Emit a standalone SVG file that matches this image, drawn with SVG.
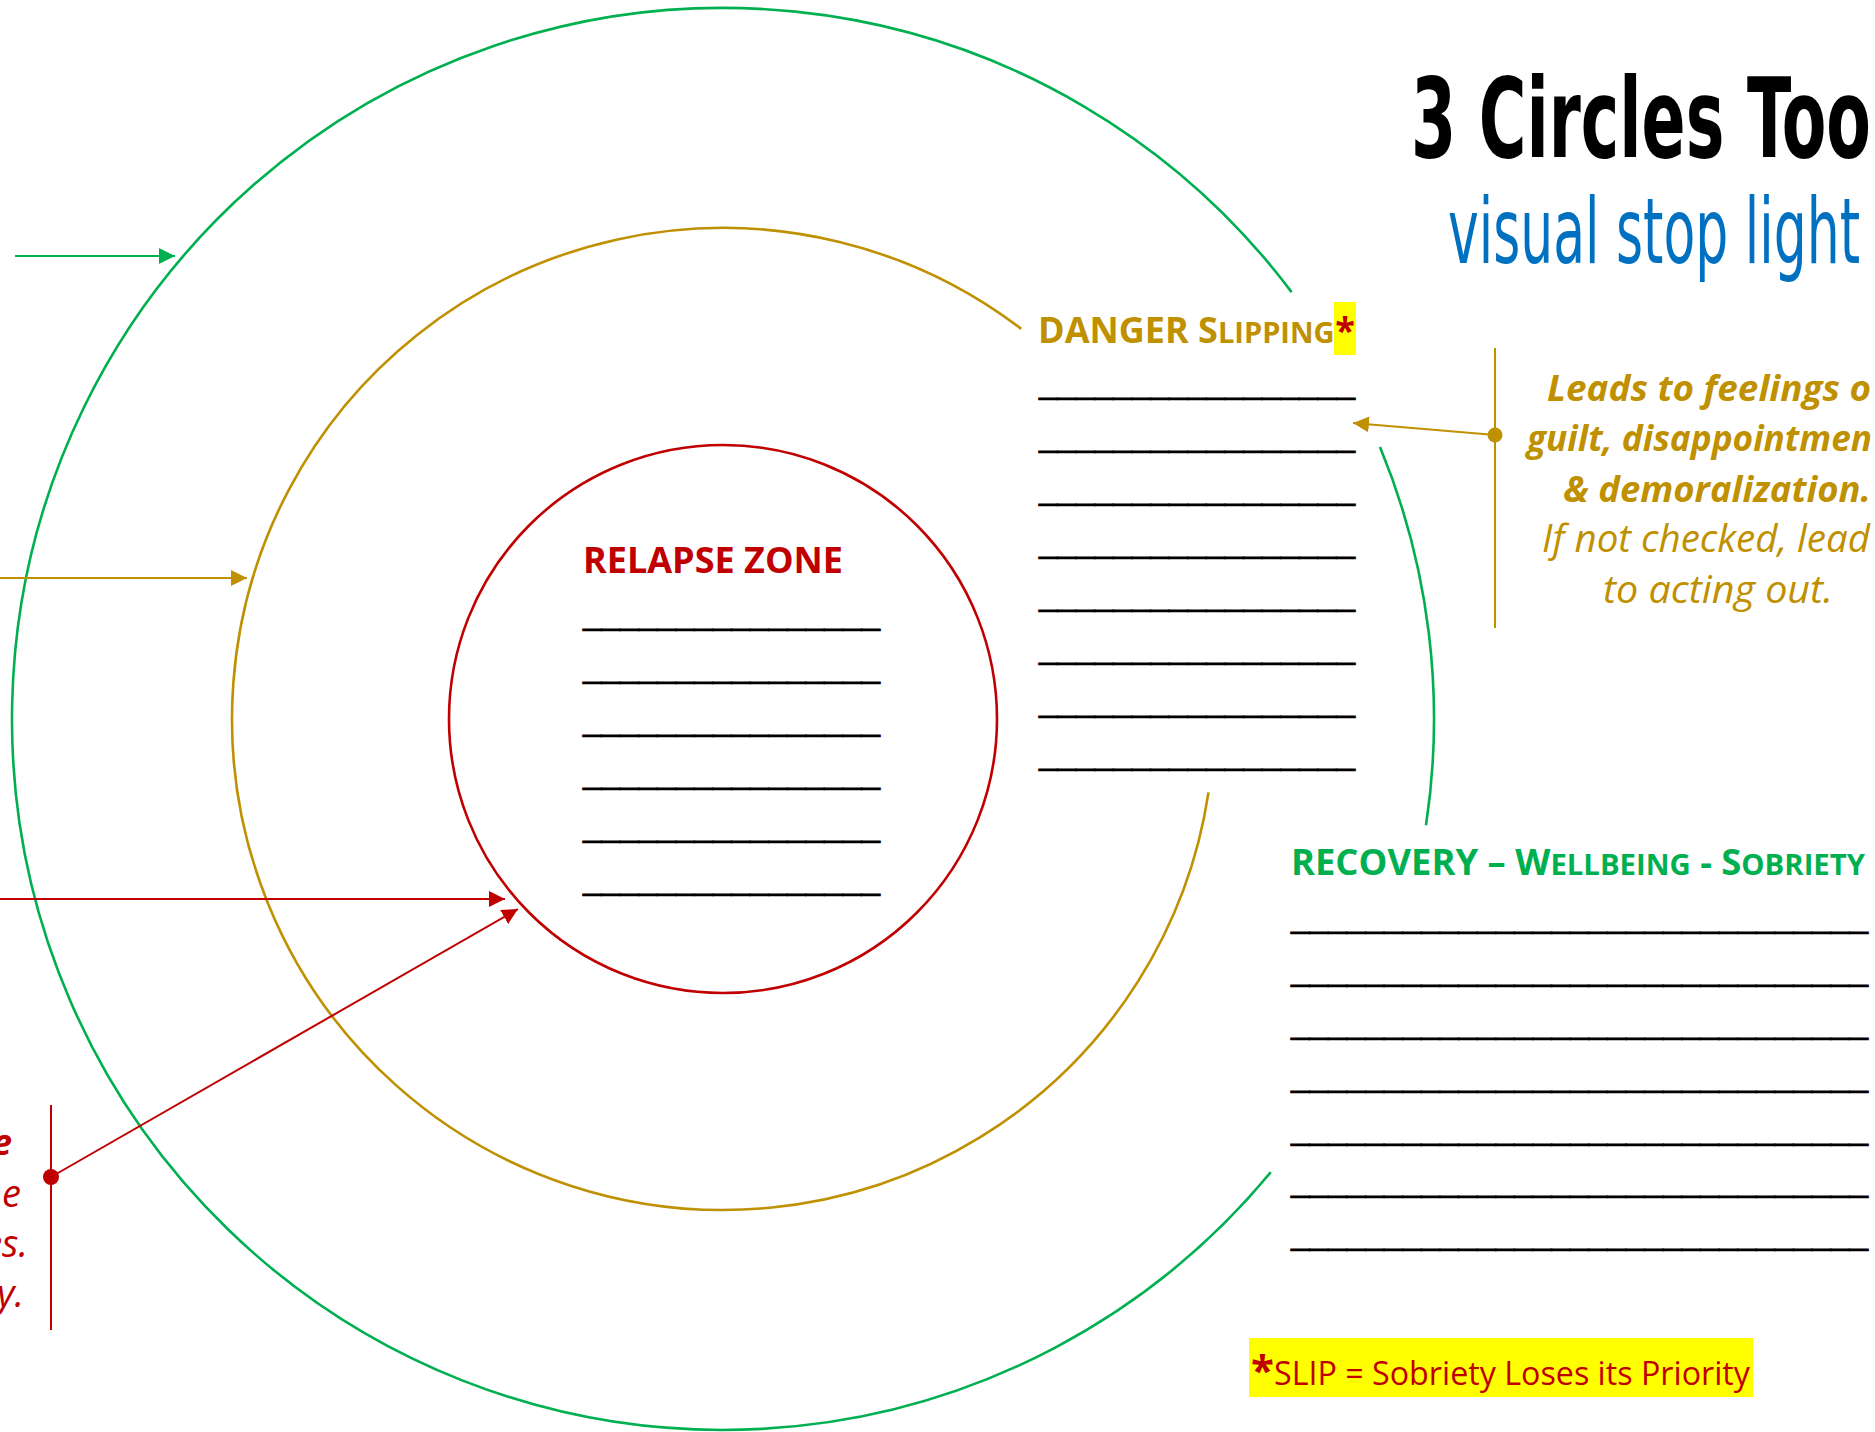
<svg xmlns="http://www.w3.org/2000/svg" width="1875" height="1432" viewBox="0 0 1875 1432">
  <style>
    .ring { fill: none; stroke-width: 2.6; }
    .g { stroke: #00B050; }
    .y { stroke: #BF9000; }
    .r { stroke: #C00000; }
    .conn { fill: none; stroke-width: 2; }
    .head { font-family: "Open Sans", "Liberation Sans", sans-serif; font-weight: bold; font-size: 36px; }
    .sc { font-size: 29px; }
    .blank { font-family: "Liberation Sans", Arial, sans-serif; font-size: 34px; fill: #000000; stroke: #000000; stroke-width: 0.7; }
    .note { font-family: "Open Sans", "Liberation Sans", sans-serif; font-style: italic; font-size: 38px; }
    .nb { font-weight: bold; font-size: 36px; }
    .title { font-family: "DejaVu Sans Condensed", "DejaVu Sans", sans-serif; }
  </style>
  <defs>
    <marker id="ahG" viewBox="0 0 16 16" refX="16" refY="8" markerWidth="16" markerHeight="16" markerUnits="userSpaceOnUse" orient="auto">
      <path d="M0,0 L16,8 L0,16 z" fill="#00B050"/>
    </marker>
    <marker id="ahY" viewBox="0 0 16 16" refX="16" refY="8" markerWidth="16" markerHeight="16" markerUnits="userSpaceOnUse" orient="auto">
      <path d="M0,0 L16,8 L0,16 z" fill="#BF9000"/>
    </marker>
    <marker id="ahR" viewBox="0 0 16 16" refX="16" refY="8" markerWidth="16" markerHeight="16" markerUnits="userSpaceOnUse" orient="auto">
      <path d="M0,0 L16,8 L0,16 z" fill="#C00000"/>
    </marker>
  </defs>
  <rect width="1875" height="1432" fill="#FFFFFF"/>

  <g id="circles">
    <path id="recovery-ring-main" class="ring g" d="M1291.6,292.1 A711,711 0 1 0 1270.8,1172.2"/>
    <path id="recovery-ring-side" class="ring g" d="M1380,447 A711,711 0 0 1 1426,825.3"/>
    <path id="danger-ring" class="ring y" d="M1021.2,328.9 A491,491 0 1 0 1208.5,792.4"/>
    <circle id="relapse-ring" class="ring r" cx="723" cy="719" r="274"/>
  </g>

  <g id="title">
    <text class="title" x="1411" y="157" font-size="111" font-weight="bold" fill="#000000" textLength="460" lengthAdjust="spacingAndGlyphs">3 Circles Too</text>
    <text class="title" x="1448" y="263" font-size="90" fill="#0070C0" textLength="412" lengthAdjust="spacingAndGlyphs">visual stop light</text>
  </g>

  <g id="relapse-zone">
    <text class="head" x="583" y="573" fill="#C00000">RELAPSE ZONE</text>
    <text class="blank" x="583" y="624" textLength="297" lengthAdjust="spacingAndGlyphs">________________</text>
    <text class="blank" x="583" y="677" textLength="297" lengthAdjust="spacingAndGlyphs">________________</text>
    <text class="blank" x="583" y="730" textLength="297" lengthAdjust="spacingAndGlyphs">________________</text>
    <text class="blank" x="583" y="783" textLength="297" lengthAdjust="spacingAndGlyphs">________________</text>
    <text class="blank" x="583" y="836" textLength="297" lengthAdjust="spacingAndGlyphs">________________</text>
    <text class="blank" x="583" y="889" textLength="297" lengthAdjust="spacingAndGlyphs">________________</text>
  </g>

  <g id="danger-zone">
    <text class="head" x="1038" y="343" fill="#BF9000">DANGER S<tspan class="sc">LIPPING</tspan></text>
    <rect x="1334" y="302" width="22" height="53" fill="#FFFF00"/>
    <text class="head" x="1345" y="343" fill="#C00000" text-anchor="middle">*</text>
    <text class="blank" x="1039" y="393" textLength="316" lengthAdjust="spacingAndGlyphs">_________________</text>
    <text class="blank" x="1039" y="446" textLength="316" lengthAdjust="spacingAndGlyphs">_________________</text>
    <text class="blank" x="1039" y="499" textLength="316" lengthAdjust="spacingAndGlyphs">_________________</text>
    <text class="blank" x="1039" y="552" textLength="316" lengthAdjust="spacingAndGlyphs">_________________</text>
    <text class="blank" x="1039" y="605" textLength="316" lengthAdjust="spacingAndGlyphs">_________________</text>
    <text class="blank" x="1039" y="658" textLength="316" lengthAdjust="spacingAndGlyphs">_________________</text>
    <text class="blank" x="1039" y="711" textLength="316" lengthAdjust="spacingAndGlyphs">_________________</text>
    <text class="blank" x="1039" y="764" textLength="316" lengthAdjust="spacingAndGlyphs">_________________</text>
  </g>

  <g id="recovery-zone">
    <text class="head" x="1291" y="875" fill="#00B050" textLength="574" lengthAdjust="spacingAndGlyphs">RECOVERY – W<tspan class="sc">ELLBEING</tspan> - S<tspan class="sc">OBRIETY</tspan></text>
    <text class="blank" x="1291" y="927" textLength="577" lengthAdjust="spacingAndGlyphs">_______________________________</text>
    <text class="blank" x="1291" y="980" textLength="577" lengthAdjust="spacingAndGlyphs">_______________________________</text>
    <text class="blank" x="1291" y="1033" textLength="577" lengthAdjust="spacingAndGlyphs">_______________________________</text>
    <text class="blank" x="1291" y="1086" textLength="577" lengthAdjust="spacingAndGlyphs">_______________________________</text>
    <text class="blank" x="1291" y="1139" textLength="577" lengthAdjust="spacingAndGlyphs">_______________________________</text>
    <text class="blank" x="1291" y="1191" textLength="577" lengthAdjust="spacingAndGlyphs">_______________________________</text>
    <text class="blank" x="1291" y="1244" textLength="577" lengthAdjust="spacingAndGlyphs">_______________________________</text>
  </g>

  <g id="danger-note" fill="#BF9000">
    <line x1="1495" y1="348" x2="1495" y2="628" stroke="#BF9000" stroke-width="2"/>
    <text class="note nb" x="1547" y="401" textLength="324" lengthAdjust="spacingAndGlyphs">Leads to feelings o</text>
    <text class="note nb" x="1527" y="451" textLength="345" lengthAdjust="spacingAndGlyphs">guilt, disappointmen</text>
    <text class="note nb" x="1563" y="502" textLength="308" lengthAdjust="spacingAndGlyphs">&amp; demoralization.</text>
    <text class="note" x="1542" y="552" textLength="328" lengthAdjust="spacingAndGlyphs">If not checked, lead</text>
    <text class="note" x="1603" y="603" textLength="230" lengthAdjust="spacingAndGlyphs">to acting out.</text>
  </g>

  <g id="relapse-note" fill="#C00000">
    <line x1="51" y1="1105" x2="51" y2="1330" stroke="#C00000" stroke-width="2"/>
    <text class="note nb" x="12" y="1155" text-anchor="end">e</text>
    <text class="note" x="21" y="1207" text-anchor="end">e</text>
    <text class="note" x="28" y="1257" text-anchor="end">es.</text>
    <text class="note" x="24" y="1307" text-anchor="end">y.</text>
  </g>

  <g id="footnote">
    <rect x="1249" y="1338" width="504" height="59" fill="#FFFF00"/>
    <text x="1251" y="1385" font-family="Open Sans, Liberation Sans, sans-serif" font-weight="bold" font-size="42" fill="#C00000">*</text>
    <text x="1274" y="1385" font-family="Open Sans, Liberation Sans, sans-serif" font-size="33" fill="#C00000" textLength="476" lengthAdjust="spacingAndGlyphs">SLIP = Sobriety Loses its Priority</text>
  </g>

  <g id="connectors">
    <line class="conn g" x1="15" y1="256" x2="175" y2="256" marker-end="url(#ahG)"/>
    <line class="conn y" x1="0" y1="578" x2="247" y2="578" marker-end="url(#ahY)"/>
    <line class="conn r" x1="0" y1="899" x2="505" y2="899" marker-end="url(#ahR)"/>
    <line class="conn r" x1="51" y1="1177" x2="518" y2="909" marker-end="url(#ahR)"/>
    <circle cx="51" cy="1177" r="8" fill="#C00000"/>
    <line class="conn y" x1="1495" y1="435" x2="1353" y2="423" marker-end="url(#ahY)"/>
    <circle cx="1495" cy="435" r="7.5" fill="#BF9000"/>
  </g>
</svg>
